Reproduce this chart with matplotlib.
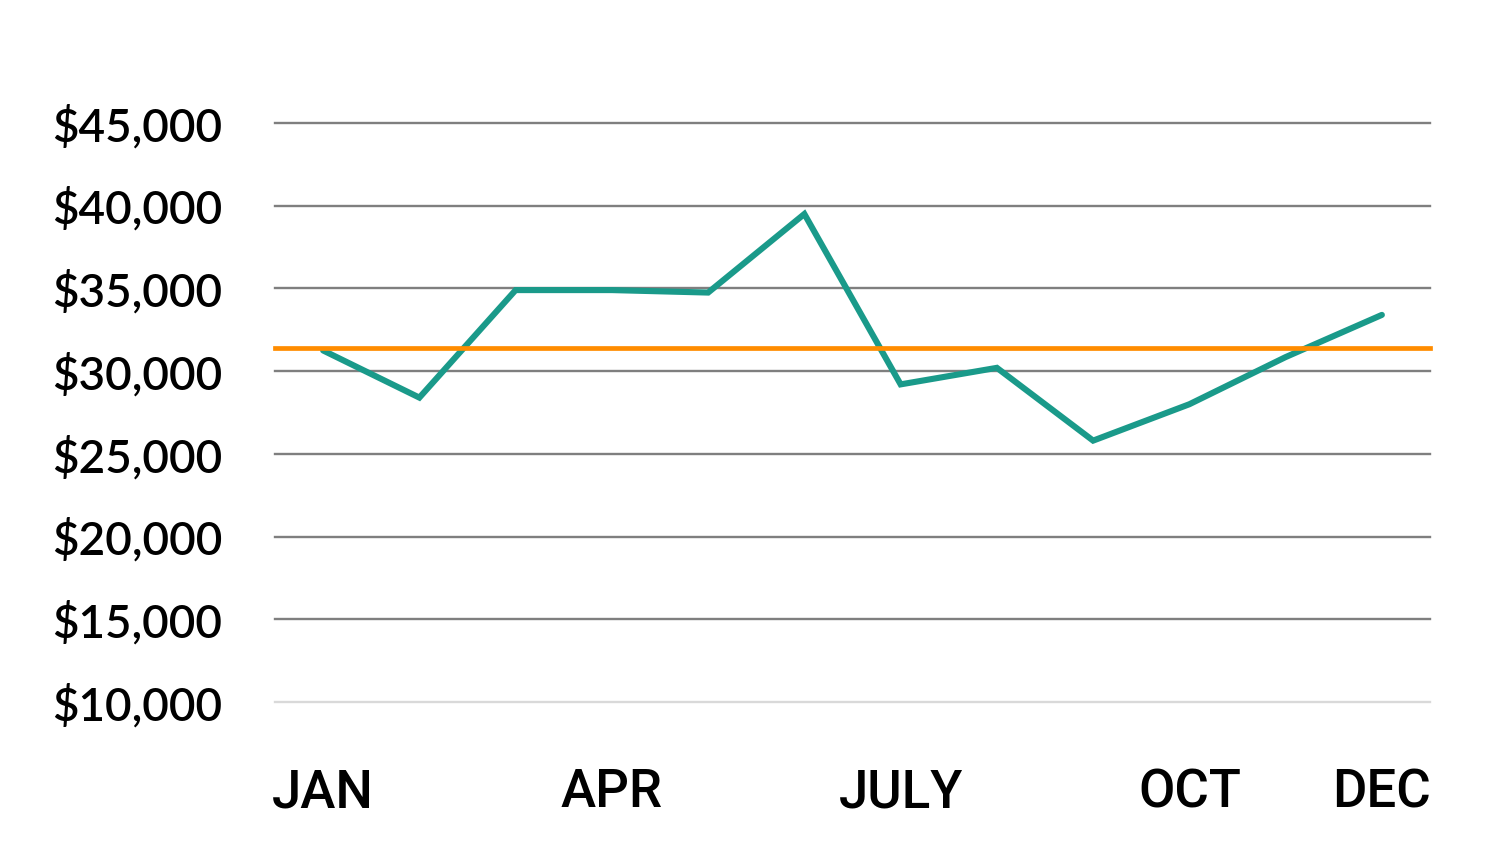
import matplotlib
matplotlib.use("Agg")
import matplotlib.pyplot as plt
from matplotlib.ticker import FuncFormatter

months = ["JAN", "FEB", "MAR", "APR", "MAY", "JUN", "JUL", "AUG", "SEP", "OCT", "NOV", "DEC"]
values = [31250, 28400, 34900, 34900, 34750, 39500, 29200, 30200, 25800, 28000, 30850, 33400]
average = 31400
yticks = [10000, 15000, 20000, 25000, 30000, 35000, 40000, 45000]
xtick_pos = [0, 3, 6, 9, 11]
xtick_labels = ["JAN", "APR", "JULY", "OCT", "DEC"]

W, H = 1500, 844
fig = plt.figure(figsize=(15, 8.44), dpi=100)
ax = fig.add_axes([275 / W, 1 - 702 / H, (1430 - 275) / W, (702 - 123) / H])

x = list(range(len(months)))
for yv in yticks:
    col = "#d9d9d9" if yv == yticks[0] else "#7f7f7f"
    ax.axhline(yv, color=col, lw=1.7, zorder=1, clip_on=False)

ax.plot(x, values, color="#1a9a8a", lw=4.4, zorder=3, solid_joinstyle="miter",
        solid_capstyle="round", clip_on=False)
ax.axhline(average, color="#ff8c00", lw=3.4, zorder=4, clip_on=False)

ax.set_xlim(-0.5, 11.5)
ax.set_ylim(10000, 45000)
ax.set_yticks(yticks)
ax.yaxis.set_major_formatter(FuncFormatter(lambda v, p: f"${int(v):,}"))
ax.set_xticks(xtick_pos)
ax.set_xticklabels(xtick_labels)

for s in ax.spines.values():
    s.set_visible(False)
ax.tick_params(axis="both", length=0)
ax.tick_params(axis="y", pad=38)
ax.tick_params(axis="x", pad=47)
for lab in ax.get_yticklabels():
    lab.set_fontfamily("Lato")
    lab.set_fontweight("semibold")
    lab.set_fontsize(33)
    lab.set_color("black")
for lab in ax.get_xticklabels():
    lab.set_fontfamily("Roboto")
    lab.set_fontweight("medium")
    lab.set_fontsize(38)
    lab.set_color("black")

fig.savefig("out.png", dpi=100, facecolor="white")
